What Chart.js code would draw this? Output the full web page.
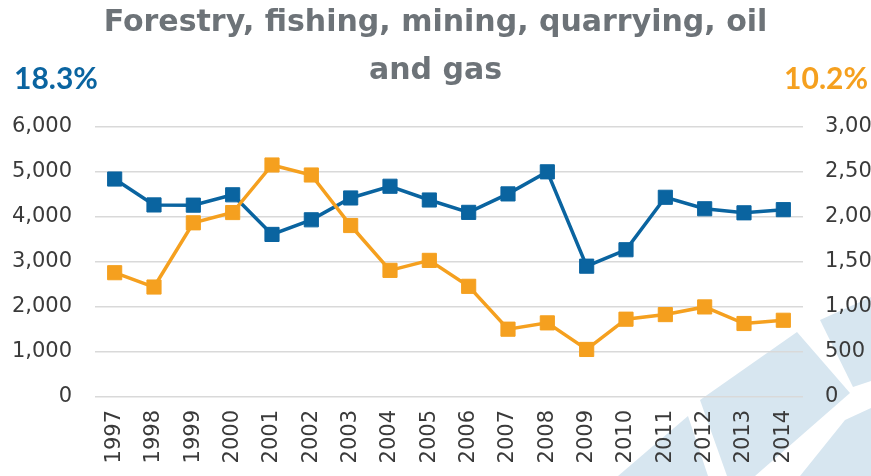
<!DOCTYPE html>
<html>
<head>
<meta charset="utf-8">
<script src="https://cdn.jsdelivr.net/npm/chart.js@4"></script>
<style>
  html,body{margin:0;padding:0;background:#fff;}
  #wrap{width:871px;height:476px;position:relative;}
</style>
</head>
<body>
<div id="wrap"><canvas id="chart" width="871" height="476"></canvas></div>
<script>
// data
const years = ['1997','1998','1999','2000','2001','2002','2003','2004','2005','2006','2007','2008','2009','2010','2011','2012','2013','2014'];
const leftSeries = [4840,4265,4260,4490,3610,3935,4420,4680,4375,4100,4510,5000,2905,3270,4435,4180,4090,4160];
const rightSeries = [1380,1221,1934,2048,2576,2465,1904,1406,1517,1229,753,823,528,864,915,1000,816,852];
const leftTicks = [0,1000,2000,3000,4000,5000,6000];
const rightTicks = [0,500,1000,1500,2000,2500,3000];
const titleLines = ['Forestry, fishing, mining, quarrying, oil', 'and gas'];
const leftShare = '18.3%';
const rightShare = '10.2%';

const BLUE = '#0a64a0';
const ORANGE = '#f5a01f';
const tickFont = {family:'DejaVu Sans', size:21};

// light blue watermark tiles behind the chart + the two share labels
const decor = {
  id:'decor',
  beforeDraw(chart){
    const c = chart.ctx;
    c.save();
    c.fillStyle = '#d7e6f0';
    const tiles = [
      [[820,320],[871,297],[871,381],[853,387]],
      [[700,400],[797,332],[850,393],[755,476],[727,476]],
      [[845,420],[871,408],[871,476],[800,476]],
      [[618,476],[688,416],[708,476]]
    ];
    tiles.forEach(t=>{
      c.beginPath();
      t.forEach((p,i)=> i? c.lineTo(p[0],p[1]) : c.moveTo(p[0],p[1]));
      c.closePath();
      c.fill();
    });
    c.restore();
  },
  afterDraw(chart){
    const c = chart.ctx;
    c.save();
    c.font = 'bold 30px Lato';
    c.textBaseline = 'alphabetic';
    c.fillStyle = BLUE;
    c.textAlign = 'left';
    c.fillText(leftShare, 14, 89);
    c.fillStyle = ORANGE;
    c.textAlign = 'right';
    c.fillText(rightShare, 868, 89);
    c.restore();
  }
};

new Chart(document.getElementById('chart'), {
  type:'line',
  data:{
    labels: years,
    datasets:[
      {label:'left', data:leftSeries, yAxisID:'y', borderColor:BLUE, backgroundColor:BLUE,
       borderWidth:3.5, pointStyle:'rect', pointRadius:10, pointBorderWidth:1, pointBorderColor:BLUE, tension:0, order:1},
      {label:'right', data:rightSeries, yAxisID:'y1', borderColor:ORANGE, backgroundColor:ORANGE,
       borderWidth:3.5, pointStyle:'rect', pointRadius:10, pointBorderWidth:1, pointBorderColor:ORANGE, tension:0, order:0}
    ]
  },
  options:{
    responsive:false,
    animation:false,
    layout:{padding:0},
    plugins:{
      legend:{display:false},
      tooltip:{enabled:false},
      title:{display:true, text:titleLines, color:'#6d7378',
        font:{family:'DejaVu Sans', size:30, weight:'bold', lineHeight:1.58},
        padding:{top:0, bottom:32}}
    },
    scales:{
      x:{
        offset:true,
        grid:{display:false, drawTicks:false},
        border:{display:false},
        ticks:{color:'#3a3a3a', font:tickFont, maxRotation:90, minRotation:90, padding:13, autoSkip:false},
        afterFit(s){ s.height = 79; }
      },
      y:{
        position:'left', min:0, max:6000,
        afterBuildTicks(s){ s.ticks = leftTicks.map(v=>({value:v})); },
        grid:{color:'#d9d9d9', lineWidth:1.5, drawTicks:false},
        border:{display:false},
        ticks:{color:'#3a3a3a', font:tickFont, padding:23,
          callback:v=>v.toLocaleString('en-US')},
        afterFit(s){ s.width = 95; }
      },
      y1:{
        position:'right', min:0, max:3000,
        afterBuildTicks(s){ s.ticks = rightTicks.map(v=>({value:v})); },
        grid:{display:false, drawTicks:false},
        border:{display:false},
        ticks:{color:'#3a3a3a', font:tickFont, padding:22,
          callback:v=>v.toLocaleString('en-US')},
        afterFit(s){ s.width = 68; }
      }
    }
  },
  plugins:[decor]
});
</script>
</body>
</html>
